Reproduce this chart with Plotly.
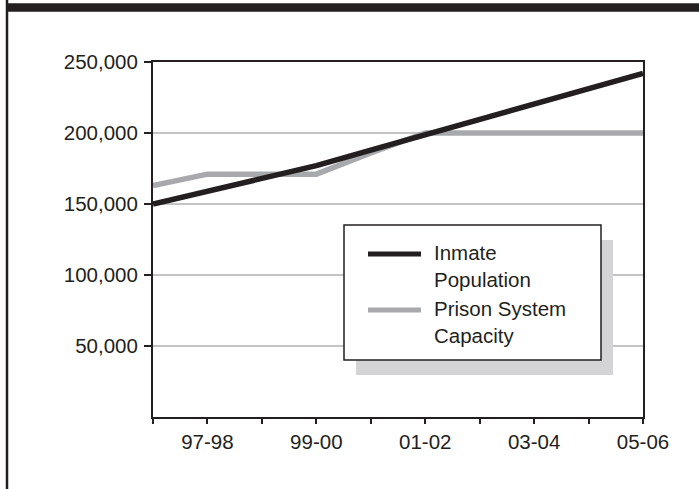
import plotly.graph_objects as go

years = ["96-97", "97-98", "98-99", "99-00", "00-01", "01-02", "02-03", "03-04", "04-05", "05-06"]
tick_labels = ["", "97-98", "", "99-00", "", "01-02", "", "03-04", "", "05-06"]
inmate_population = [150000, 159000, 168000, 177000, 188000, 199000, 209000, 220000, 231000, 242000]
prison_capacity = [163000, 171000, 171000, 171000, 186000, 200000, 200000, 200000, 200000, 200000]
y_ticks = [50000, 100000, 150000, 200000, 250000]

DARK = "#231f20"
GRAY = "#a7a9ac"
FONT = "Liberation Sans, Arial, sans-serif"
FS = 20.5

fig = go.Figure()
fig.add_trace(go.Scatter(x=years, y=prison_capacity, mode="lines",
                         line=dict(color=GRAY, width=5.5), name="Prison System Capacity",
                         showlegend=False))
fig.add_trace(go.Scatter(x=years, y=inmate_population, mode="lines",
                         line=dict(color=DARK, width=5.5), name="Inmate Population",
                         showlegend=False))

W, H = 699, 489
L, R, T, B = 153, 643, 62, 417


def px(x):
    return (x - L) / (R - L)


def py(y):
    return (B - y) / (B - T)


shapes = [
    # frame: top bar and left rule
    dict(type="rect", xref="paper", yref="paper", x0=px(6), x1=px(705), y0=py(11.7), y1=py(3.3),
         fillcolor=DARK, line=dict(width=0), layer="above"),
    dict(type="line", xref="paper", yref="paper", x0=px(7), x1=px(7), y0=py(495), y1=py(-5),
         line=dict(color=DARK, width=2.5), layer="above"),
    # legend shadow and box
    dict(type="rect", xref="paper", yref="paper", x0=px(356), x1=px(613), y0=py(375), y1=py(240),
         fillcolor="#d4d4d6", line=dict(width=0), layer="above"),
    dict(type="rect", xref="paper", yref="paper", x0=px(344), x1=px(601), y0=py(360), y1=py(225),
         fillcolor="white", line=dict(color=DARK, width=1.5), layer="above"),
    # legend samples
    dict(type="line", xref="paper", yref="paper", x0=px(368), x1=px(421), y0=py(254), y1=py(254),
         line=dict(color=DARK, width=5), layer="above"),
    dict(type="line", xref="paper", yref="paper", x0=px(368), x1=px(421), y0=py(310), y1=py(310),
         line=dict(color=GRAY, width=5), layer="above"),
]

annotations = [
    dict(text="Inmate<br>Population", xref="paper", yref="paper", x=px(432), y=py(266),
         xanchor="left", yanchor="middle", align="left", showarrow=False,
         font=dict(family=FONT, size=FS, color=DARK)),
    dict(text="Prison System<br>Capacity", xref="paper", yref="paper", x=px(432), y=py(322),
         xanchor="left", yanchor="middle", align="left", showarrow=False,
         font=dict(family=FONT, size=FS, color=DARK)),
]

fig.update_layout(
    width=W, height=H, autosize=False,
    margin=dict(l=L, r=W - R, t=T, b=H - B, pad=0),
    paper_bgcolor="white", plot_bgcolor="white",
    font=dict(family=FONT, size=FS, color=DARK),
    shapes=shapes, annotations=annotations,
    showlegend=False,
)
fig.update_xaxes(
    type="category", range=[0, 9], tickmode="array", tickvals=years, ticktext=tick_labels,
    ticks="outside", ticklen=5, tickwidth=1.5, tickcolor=DARK,
    showline=True, linecolor=DARK, linewidth=2, mirror=True,
    showgrid=False, zeroline=False, tickfont=dict(size=FS),
)
fig.update_yaxes(
    range=[0, 250000], tickmode="array", tickvals=y_ticks, tickformat=",d",
    ticks="outside", ticklen=7, tickwidth=1.5, tickcolor=DARK,
    showline=True, linecolor=DARK, linewidth=2, mirror=True,
    showgrid=True, gridcolor="#c4c4c4", gridwidth=1.5, zeroline=False,
    tickfont=dict(size=FS), ticklabelstandoff=2,
)

fig.write_html("out.html", config={"displayModeBar": False},
               post_script="document.body.style.margin='0px';document.body.style.overflow='hidden';")
